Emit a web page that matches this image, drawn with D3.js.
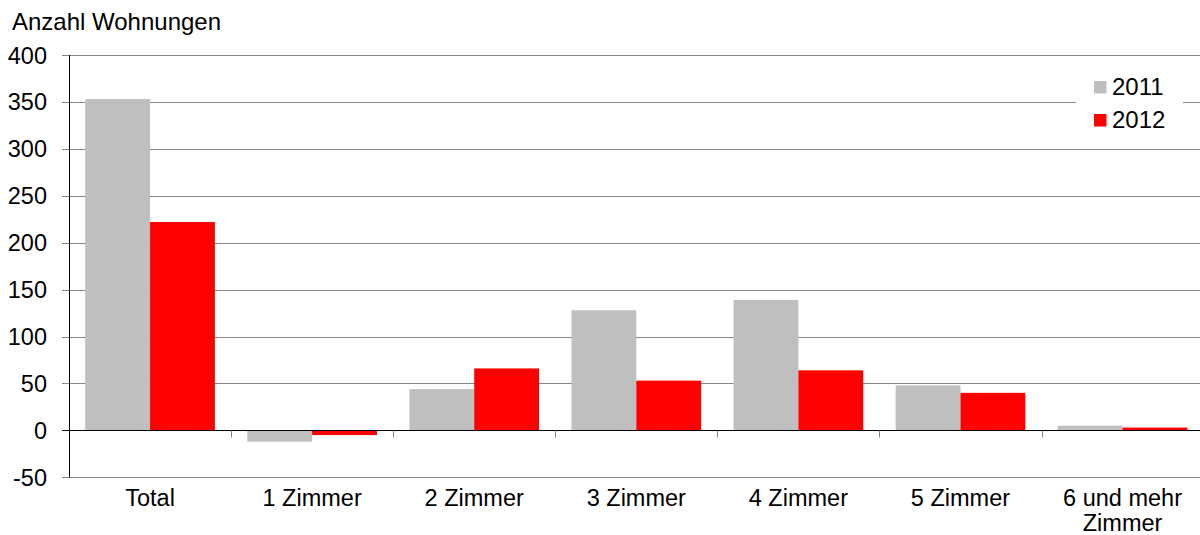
<!DOCTYPE html>
<html>
<head>
<meta charset="utf-8">
<script src="https://cdn.jsdelivr.net/npm/d3@7"></script>
<style>
  body { margin: 0; background: #fff; }
  svg text { font-family: "Liberation Sans", Arial, sans-serif; fill: #000; }
</style>
</head>
<body>
<div id="chart"></div>
<script>
// chart data
const categories = ["Total", "1 Zimmer", "2 Zimmer", "3 Zimmer", "4 Zimmer", "5 Zimmer", "6 und mehr Zimmer"];
const seriesNames = ["2011", "2012"];
const values2011 = [353, -12, 44, 128, 139, 48, 5];
const values2012 = [222, -5, 66, 53, 64, 40, 3];
const yTicks = [-50, 0, 50, 100, 150, 200, 250, 300, 350, 400];
const colors = ["#BFBFBF", "#FF0000"];

const W = 1200, H = 535;
const plot = {left: 69, right: 1203.6, top: 55, bottom: 477.3};

const svg = d3.select("#chart").append("svg")
    .attr("width", W)
    .attr("height", H);

const x = d3.scaleBand()
    .domain(categories)
    .range([plot.left, plot.right])
    .paddingInner(0)
    .paddingOuter(0);

const x1 = d3.scaleBand()
    .domain(seriesNames)
    .range([0, x.bandwidth()])
    .paddingOuter(0.25)
    .paddingInner(0);

const y = d3.scaleLinear()
    .domain([-50, 400])
    .range([plot.bottom, plot.top]);

// gridlines
svg.append("g")
    .selectAll("line")
    .data(yTicks)
    .enter().append("line")
    .attr("x1", plot.left - 7)
    .attr("x2", W)
    .attr("y1", d => Math.round(y(d)) + 0.5)
    .attr("y2", d => Math.round(y(d)) + 0.5)
    .attr("stroke", "#868686")
    .attr("stroke-width", 1);

// y labels
svg.append("g")
    .selectAll("text")
    .data(yTicks)
    .enter().append("text")
    .attr("x", 47)
    .attr("y", d => y(d) + 8.5)
    .attr("text-anchor", "end")
    .style("font-size", "23.5px")
    .text(d => d);

// bars
const data = categories.map((c, i) => ({cat: c, vals: [values2011[i], values2012[i]]}));
const groups = svg.append("g")
    .selectAll("g")
    .data(data)
    .enter().append("g")
    .attr("transform", d => `translate(${x(d.cat)},0)`);

groups.selectAll("rect")
    .data(d => d.vals.map((v, j) => ({name: seriesNames[j], v: v, j: j})))
    .enter().append("rect")
    .attr("x", d => x1(d.name))
    .attr("width", x1.bandwidth())
    .attr("y", d => y(Math.max(0, d.v)))
    .attr("height", d => Math.abs(y(d.v) - y(0)))
    .attr("fill", d => colors[d.j]);

// zero axis line and category ticks
const y0 = Math.round(y(0)) + 0.5;
svg.append("line")
    .attr("x1", plot.left - 7).attr("x2", W)
    .attr("y1", y0).attr("y2", y0)
    .attr("stroke", "#000");

svg.append("g")
    .selectAll("line")
    .data(categories.slice(1))
    .enter().append("line")
    .attr("x1", d => Math.round(x(d)) + 0.5)
    .attr("x2", d => Math.round(x(d)) + 0.5)
    .attr("y1", y0)
    .attr("y2", y0 + 7)
    .attr("stroke", "#868686");

// vertical axis
svg.append("line")
    .attr("x1", plot.left + 0.5).attr("x2", plot.left + 0.5)
    .attr("y1", plot.top).attr("y2", plot.bottom)
    .attr("stroke", "#000");

// category labels
const catLabels = svg.append("g")
    .selectAll("text")
    .data(categories)
    .enter().append("text")
    .attr("x", d => x(d) + x.bandwidth() / 2)
    .attr("y", 506)
    .attr("text-anchor", "middle")
    .style("font-size", "23.5px");

catLabels.each(function(d) {
    const t = d3.select(this);
    if (d === "6 und mehr Zimmer") {
        t.append("tspan").attr("x", x(d) + x.bandwidth() / 2).attr("dy", 0).text("6 und mehr");
        t.append("tspan").attr("x", x(d) + x.bandwidth() / 2).attr("dy", 25).text("Zimmer");
    } else {
        t.text(d);
    }
});

// title
svg.append("text")
    .attr("x", 12)
    .attr("y", 30)
    .style("font-size", "24px")
    .text("Anzahl Wohnungen");

// legend
const legend = svg.append("g");
legend.append("rect")
    .attr("x", 1076).attr("y", 70)
    .attr("width", 107).attr("height", 64)
    .attr("fill", "#fff");

const items = legend.selectAll("g")
    .data(seriesNames)
    .enter().append("g")
    .attr("transform", (d, i) => `translate(1094,${81 + i * 33})`);

items.append("rect")
    .attr("width", 12.5).attr("height", 12.5)
    .attr("fill", (d, i) => colors[i]);

items.append("text")
    .attr("x", 18)
    .attr("y", 14)
    .style("font-size", "24px")
    .text(d => d);
</script>
</body>
</html>
